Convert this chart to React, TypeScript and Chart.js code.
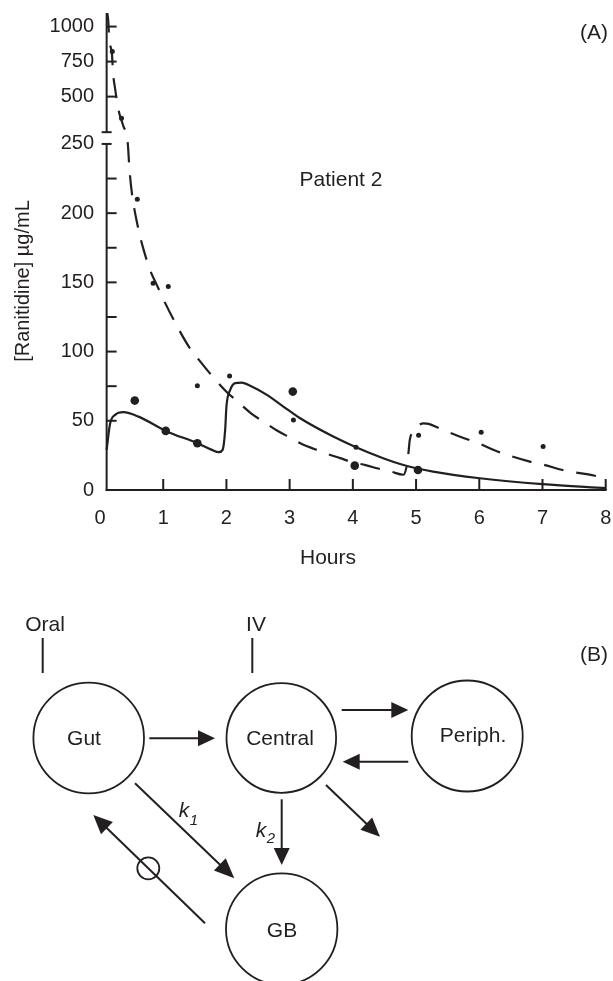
import React, { useEffect, useRef } from 'react';
import { Chart, registerables } from 'chart.js';
Chart.register(...registerables);

const INK = '#231f20';
const FONT = '"Liberation Sans", Arial, Helvetica, sans-serif';

// Panel A data (hours, µg/mL)
const SOLID_HOURS = [0.105, 0.16, 0.24, 0.37, 0.61, 1.04, 1.54, 1.77, 1.88, 1.94, 1.98, 2.0, 2.06, 2.14, 2.24, 2.4, 2.64, 2.9, 3.16, 3.69, 4.05, 4.48, 4.8, 5.27, 6.01, 7.0, 8.0];
const SOLID_CONC = [29, 48, 54.3, 56.2, 53, 42.7, 33.8, 29, 27.3, 29, 43.4, 60.3, 72.3, 77.2, 77.6, 74.7, 68.7, 60.3, 52, 38.6, 30.9, 23, 18.1, 13.3, 8.5, 4.2, 1.3];

const DASH_HOURS = [0.115, 0.133, 0.143, 0.19, 0.206, 0.237, 0.30, 0.364, 0.44, 0.46, 0.49, 0.6, 0.7, 0.8, 0.9, 1.0, 1.2, 1.4, 1.6, 1.8, 2.0, 2.2, 2.4, 2.6, 2.8, 3.0, 3.2, 3.4, 3.6, 3.8, 4.0, 4.2, 4.4, 4.6, 4.8, 4.85, 4.88, 4.9, 4.95, 5.02, 5.12, 5.2, 5.35, 5.5, 5.7, 6.0, 6.25, 6.5, 6.8, 7.0, 7.4, 7.7, 8.0];
const DASH_CONC = [1100, 1027, 927, 798, 671, 562, 419, 350, 250, 236, 220, 190, 172, 158, 148, 138, 120, 104, 92, 81, 71, 63, 55, 49, 43, 38, 33, 29.5, 26, 23, 20, 18, 15.5, 13.3, 11, 17, 27, 36, 42, 46, 48.2, 47.8, 45, 42, 38.5, 33.5, 28.5, 24.5, 20.5, 18.5, 13.5, 11.5, 8.5];

const BIG_DOT_HOURS = [0.55, 1.04, 1.54, 3.05, 4.03, 5.03];
const BIG_DOT_CONC = [64.6, 42.7, 33.8, 71.1, 17.6, 14.5];

const SMALL_DOT_HOURS = [0.195, 0.34, 0.59, 0.84, 1.08, 1.54, 2.05, 3.06, 4.05, 5.04, 6.03, 7.01];
const SMALL_DOT_CONC = [822, 386, 210, 149.4, 147, 75.4, 82.4, 50.6, 30.9, 39.5, 41.7, 31.4];

const X_TICKS = [0, 1, 2, 3, 4, 5, 6, 7, 8];
const Y_TICK_LABELS = ['0', '50', '100', '150', '200', '250', '500', '750', '1000'];
const Y_LABEL_VALUES = [0, 50, 100, 150, 200, 250, 500, 750, 1000];
const Y_TICK_MARKS = [50, 75, 100, 125, 150, 175, 200, 225, 500, 750, 1000];

const AXIS_HOUR = 0.105;

// broken-axis transform
const T = (v: number) => (v <= 250 ? v : v < 500 ? 250 + (v - 250) * 0.1368 : 284.2 + (v - 500) * 0.1012);

const pts = (xs: number[], ys: number[]) => xs.map((x, i) => ({ x, y: T(ys[i]) }));

function line(ctx: CanvasRenderingContext2D, x1: number, y1: number, x2: number, y2: number) {
  ctx.beginPath();
  ctx.moveTo(x1, y1);
  ctx.lineTo(x2, y2);
  ctx.stroke();
}

function arrow(ctx: CanvasRenderingContext2D, x1: number, y1: number, x2: number, y2: number, hl = 17, hw = 8) {
  const a = Math.atan2(y2 - y1, x2 - x1);
  const bx = x2 - hl * Math.cos(a);
  const by = y2 - hl * Math.sin(a);
  line(ctx, x1, y1, bx + Math.cos(a), by + Math.sin(a));
  ctx.beginPath();
  ctx.moveTo(x2, y2);
  ctx.lineTo(bx - hw * Math.sin(a), by + hw * Math.cos(a));
  ctx.lineTo(bx + hw * Math.sin(a), by - hw * Math.cos(a));
  ctx.closePath();
  ctx.fill();
}

function circle(ctx: CanvasRenderingContext2D, x: number, y: number, r: number) {
  ctx.beginPath();
  ctx.arc(x, y, r, 0, Math.PI * 2);
  ctx.stroke();
}

const decor = {
  id: 'decor',
  beforeDatasetsDraw(chart: any) {
    const ctx: CanvasRenderingContext2D = chart.ctx;
    const xs = chart.scales.x;
    const ys = chart.scales.y;
    const ax = xs.getPixelForValue(AXIS_HOUR);
    const y0 = ys.getPixelForValue(0);
    ctx.save();
    ctx.strokeStyle = INK;
    ctx.lineWidth = 2;
    const yLow = ys.getPixelForValue(T(250));
    const yHigh = ys.getPixelForValue(258.5);
    line(ctx, ax, y0 + 1, ax, yLow);
    line(ctx, ax, yHigh, ax, chart.chartArea.top);
    line(ctx, ax - 5, yLow, ax + 5, yLow);
    line(ctx, ax - 5, yHigh, ax + 5, yHigh);
    Y_TICK_MARKS.forEach((v) => {
      const p = ys.getPixelForValue(T(v));
      line(ctx, ax, p, ax + 10, p);
    });
    line(ctx, ax - 1, y0, xs.right + 1, y0);
    X_TICKS.filter((h) => h > 0).forEach((h) => {
      const p = xs.getPixelForValue(h);
      line(ctx, p, y0, p, y0 - 11);
    });
    ctx.restore();
  },
  afterDraw(chart: any) {
    const ctx: CanvasRenderingContext2D = chart.ctx;
    ctx.save();
    ctx.fillStyle = INK;
    ctx.strokeStyle = INK;
    ctx.textAlign = 'center';
    ctx.textBaseline = 'middle';
    ctx.font = `20px ${FONT}`;
    // y title
    ctx.save();
    ctx.translate(23, 281);
    ctx.rotate(-Math.PI / 2);
    ctx.fillText('[Ranitidine] µg/mL', 0, 0);
    ctx.restore();
    ctx.font = `21px ${FONT}`;
    ctx.fillText('Hours', 328, 558);
    ctx.fillText('Patient 2', 341, 180);
    ctx.fillText('(A)', 594, 33);

    // Panel B
    ctx.fillText('(B)', 594, 655);
    ctx.fillText('Oral', 45, 625);
    ctx.fillText('IV', 256, 625);
    ctx.fillText('Gut', 84, 739);
    ctx.fillText('Central', 280, 739);
    ctx.fillText('Periph.', 473, 736);
    ctx.fillText('GB', 282, 931);
    ctx.lineWidth = 2;
    line(ctx, 42.7, 638, 42.7, 673);
    line(ctx, 252.3, 638, 252.3, 673);
    ctx.lineWidth = 1.8;
    circle(ctx, 88.7, 738, 55.3);
    circle(ctx, 281.3, 738, 54.8);
    circle(ctx, 467.2, 736, 55.5);
    circle(ctx, 281.7, 929, 55.7);
    ctx.lineWidth = 2;
    arrow(ctx, 149.3, 738.3, 215, 738.3);
    arrow(ctx, 341.7, 710, 408.3, 710);
    arrow(ctx, 408.3, 761.7, 342.7, 761.7);
    arrow(ctx, 135, 783.3, 234.3, 878.3, 20, 8.5);
    arrow(ctx, 281.7, 799.3, 281.7, 865, 17, 8);
    arrow(ctx, 326, 785, 380, 836.7, 19, 8.5);
    arrow(ctx, 205, 923.3, 93.3, 815, 19, 8.5);
    ctx.lineWidth = 1.8;
    circle(ctx, 148.3, 868.3, 11);
    ctx.font = `italic 21px ${FONT}`;
    ctx.fillText('k', 184, 811);
    ctx.fillText('k', 261, 831);
    ctx.font = `italic 15px ${FONT}`;
    ctx.fillText('1', 194, 821);
    ctx.fillText('2', 271, 839);
    ctx.restore();
  },
};

export default function App() {
  const ref = useRef<HTMLCanvasElement>(null);
  useEffect(() => {
    const font = { family: FONT, size: 20 };
    const chart = new Chart(ref.current as HTMLCanvasElement, {
      type: 'line',
      data: {
        datasets: [
          {
            data: pts(SOLID_HOURS, SOLID_CONC),
            borderColor: INK,
            borderWidth: 2.2,
            pointRadius: 0,
            cubicInterpolationMode: 'monotone',
            fill: false,
          },
          {
            data: pts(DASH_HOURS, DASH_CONC),
            borderColor: INK,
            borderWidth: 2.2,
            borderDash: [20, 13],
            pointRadius: 0,
            cubicInterpolationMode: 'monotone',
            fill: false,
          },
          {
            data: pts(BIG_DOT_HOURS, BIG_DOT_CONC),
            showLine: false,
            pointRadius: 4.3,
            pointBackgroundColor: INK,
            pointBorderWidth: 0,
            borderColor: INK,
          },
          {
            data: pts(SMALL_DOT_HOURS, SMALL_DOT_CONC),
            showLine: false,
            pointRadius: 2.5,
            pointBackgroundColor: INK,
            pointBorderWidth: 0,
            borderColor: INK,
          },
        ],
      } as any,
      options: {
        responsive: false,
        animation: false,
        devicePixelRatio: 1,
        layout: { padding: { left: 0, top: 0, right: 0, bottom: 451 } },
        plugins: { legend: { display: false }, tooltip: { enabled: false } },
        scales: {
          x: {
            type: 'linear',
            min: 0,
            max: 8,
            grid: { display: false, drawTicks: false },
            border: { display: false },
            afterBuildTicks: (s: any) => {
              s.ticks = X_TICKS.map((v) => ({ value: v }));
            },
            ticks: { font, color: INK, padding: 16, maxRotation: 0, autoSkip: false, callback: (v: any) => String(v) },
            afterFit: (s: any) => {
              s.height = 40;
              s.paddingLeft = 0;
              s.paddingRight = 7.3;
            },
          },
          y: {
            type: 'linear',
            min: 0,
            max: 344.6,
            grid: { display: false, drawTicks: false },
            border: { display: false },
            afterBuildTicks: (s: any) => {
              s.ticks = Y_LABEL_VALUES.map((v) => ({ value: T(v) }));
            },
            ticks: { font, color: INK, padding: 6, autoSkip: false, callback: (_v: any, i: number) => Y_TICK_LABELS[i] },
            afterFit: (s: any) => {
              s.width = 100;
              s.paddingTop = 13;
              s.paddingBottom = 0;
            },
          },
        },
      } as any,
      plugins: [decor],
    });
    return () => chart.destroy();
  }, []);
  return (
    <div style={{ position: 'fixed', left: 0, top: 0, width: 613, height: 981, background: '#fff' }}>
      <canvas ref={ref} width={613} height={981} style={{ display: 'block', width: 613, height: 981 }} />
    </div>
  );
}
